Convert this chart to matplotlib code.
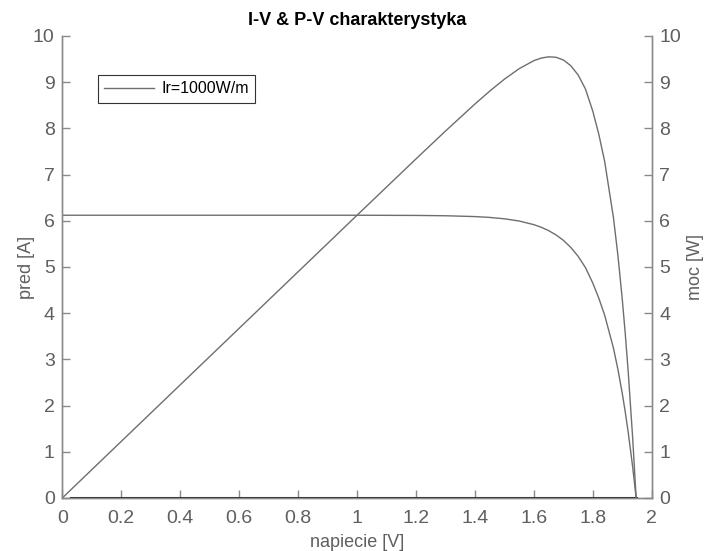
import matplotlib
matplotlib.use('Agg')
import matplotlib.pyplot as plt

plt.rcParams['font.family'] = ['Liberation Sans', 'DejaVu Sans']

# values
napiecie = [0, 0.2, 0.4, 0.6, 0.8, 1.0, 1.2, 1.3, 1.4, 1.45, 1.5, 1.55, 1.6, 1.625,
            1.65, 1.675, 1.7, 1.725, 1.75, 1.775, 1.8, 1.82, 1.84, 1.87, 1.885,
            1.9, 1.91, 1.92, 1.935, 1.947]
prad = [6.12, 6.12, 6.12, 6.12, 6.12, 6.12, 6.116, 6.109, 6.091, 6.073, 6.043, 5.995,
        5.916, 5.86, 5.787, 5.695, 5.577, 5.425, 5.233, 4.987, 4.65, 4.33, 3.96,
        3.244, 2.788, 2.26, 1.862, 1.424, 0.68, 0]
moc = [0, 1.224, 2.448, 3.672, 4.896, 6.12, 7.339, 7.942, 8.527, 8.806, 9.065, 9.292,
       9.466, 9.522, 9.549, 9.539, 9.481, 9.358, 9.158, 8.852, 8.37, 7.88, 7.29,
       6.066, 5.256, 4.294, 3.557, 2.734, 1.316, 0]

txt = '#5f5f5f'
line_c = '#6e6e6e'

fig = plt.figure(figsize=(7.06, 5.51), dpi=100)
ax = fig.add_axes([0.0882, 0.0962, 0.835, 0.8385])
ax2 = ax.twinx()

ax.plot(napiecie, prad, color=line_c, lw=1.0, label='Ir=1000W/m')
ax2.plot(napiecie, moc, color=line_c, lw=1.0)
ax.plot([napiecie[0] + 0.03, napiecie[-1]], [0, 0], color='#2a2a2a', lw=2.2, zorder=5)

ax.set_xlim(0, 2)
ax.set_ylim(0, 10)
ax2.set_ylim(0, 10)
ax.set_xticks([0, 0.2, 0.4, 0.6, 0.8, 1, 1.2, 1.4, 1.6, 1.8, 2])
ax.set_xticklabels(['0', '0.2', '0.4', '0.6', '0.8', '1', '1.2', '1.4', '1.6', '1.8', '2'])
ax.set_yticks(range(0, 11))
ax2.set_yticks(range(0, 11))

for a in (ax, ax2):
    a.spines['top'].set_visible(False)
    for s in a.spines.values():
        s.set_color('#8a8a8a')
        s.set_linewidth(1.0)
    a.tick_params(direction='in', length=6, width=1, colors='#8a8a8a',
                  labelcolor=txt, labelsize=14, pad=5.5)
ax.tick_params(axis='x', pad=9)

ax.set_xlabel('napiecie [V]', fontsize=13, color=txt, labelpad=5)
ax.set_ylabel('pred [A]', fontsize=13, color=txt, labelpad=-1.3)
ax2.set_ylabel('moc [W]', fontsize=13, color=txt, labelpad=4.5)
ax.set_title('I-V & P-V charakterystyka', fontsize=13, fontweight='bold', pad=8)

leg = ax.legend(loc='upper left', bbox_to_anchor=(0.0606, 0.9156), fontsize=11.5,
                fancybox=False, framealpha=1, edgecolor='#333333',
                handlelength=3.1, handletextpad=0.45, borderpad=0.4,
                borderaxespad=0)
leg.get_frame().set_linewidth(0.8)

fig.savefig('out.png', dpi=100)
